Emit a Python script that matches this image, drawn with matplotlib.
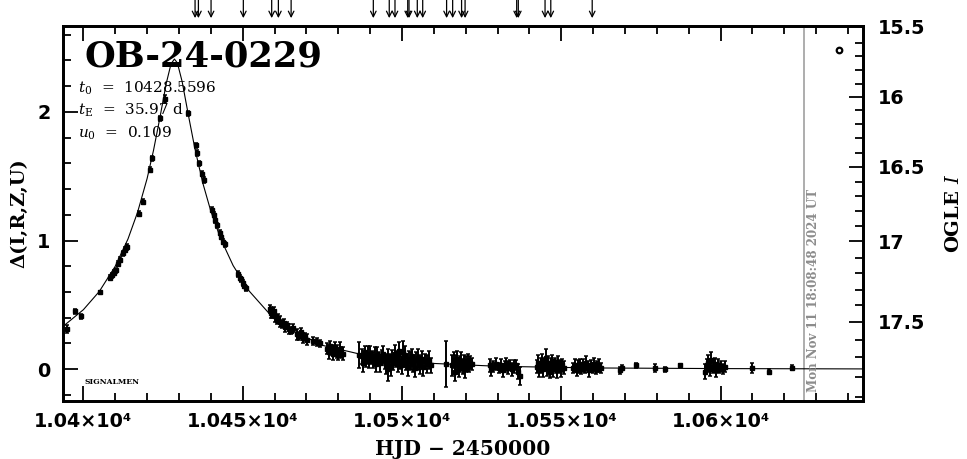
import numpy as np
import matplotlib
matplotlib.use("Agg")
import matplotlib.pyplot as plt
from matplotlib.ticker import MultipleLocator, FixedLocator

plt.rcParams['mathtext.fontset'] = 'dejavuserif'

# event parameters (as printed on the chart)
event_name = "OB-24-0229"
param_lines = [r"$t_0$  =  10428.5596", r"$t_{\rm E}$  =  35.97 d", r"$u_0$  =  0.109"]
date_stamp = "Mon Nov 11 18:08:48 2024 UT"
now_hjd = 10626.2

# model curve
model_t = [10393.6, 10400, 10405, 10410, 10414, 10417, 10420, 10422, 10424, 10426,
           10427.5, 10428.56, 10429.5, 10431, 10433, 10435, 10437.5, 10440, 10443,
           10447, 10452, 10458, 10465, 10475, 10490, 10510, 10530, 10560, 10600, 10644.6]
model_d = [0.332, 0.462, 0.604, 0.800, 1.012, 1.219, 1.482, 1.700, 1.953, 2.221,
           2.373, 2.411, 2.381, 2.235, 1.969, 1.714, 1.445, 1.228, 1.019,
           0.805, 0.608, 0.441, 0.308, 0.185, 0.098, 0.044, 0.022, 0.009, 0.004, 0.0015]

# photometry: hjd, delta, error
obs_t = [10395.0, 10397.4, 10399.2, 10405.2, 10408.3, 10408.9, 10409.6, 10410.2, 10410.8, 10411.4,
         10412.4, 10413.0, 10413.6, 10417.5, 10418.6, 10420.9, 10421.6, 10424.1, 10425.6,
         10432.9, 10435.3, 10435.8, 10436.4, 10437.1, 10437.7, 10440.4, 10440.9, 10441.4, 10441.9,
         10442.8, 10443.3, 10443.8, 10444.3, 10448.6, 10449.0, 10449.5, 10450.0, 10450.5, 10451.1,
         10458.5, 10458.9, 10459.3, 10459.7, 10460.2, 10460.7, 10461.2, 10461.8, 10462.3, 10462.9,
         10463.4, 10464.0, 10464.6, 10465.2, 10465.8, 10467.2, 10467.7, 10468.3, 10468.9, 10469.5,
         10470.1, 10472.0, 10473.2, 10474.3, 10476.6, 10477.0, 10477.5, 10478.0, 10478.5, 10479.0,
         10479.5, 10480.0, 10480.5, 10481.0, 10481.5, 10486.6,
         10487.4, 10487.8, 10488.3, 10488.7, 10489.2, 10489.6, 10490.1, 10490.5, 10491.0, 10491.4,
         10491.9, 10492.3, 10492.8, 10493.2, 10493.7, 10494.1, 10494.6, 10495.0, 10495.5, 10495.9,
         10496.4, 10496.8, 10497.3, 10497.7, 10498.2, 10498.6, 10499.1, 10499.5, 10500.0, 10500.4,
         10500.9, 10501.3, 10501.8, 10502.2, 10502.7, 10503.1, 10503.6, 10504.0, 10504.5, 10504.9,
         10505.4, 10505.8, 10506.3, 10506.7, 10507.2, 10507.8, 10508.5, 10509.0, 10495.6, 10500.4,
         10513.7,
         10515.8, 10516.2, 10516.6, 10517.0, 10517.4, 10517.8, 10518.2, 10518.6, 10519.0, 10519.4,
         10519.8, 10520.2, 10520.6, 10521.0, 10521.5, 10522.0,
         10527.6, 10528.0, 10528.6, 10529.5, 10530.3, 10531.0, 10531.6, 10532.2, 10532.8, 10533.4,
         10534.0, 10534.6, 10535.2, 10535.8, 10536.4, 10537.0,
         10542.3, 10542.7, 10543.1, 10543.5, 10543.9, 10544.3, 10544.7, 10545.1, 10545.5, 10545.9,
         10546.3, 10546.7, 10547.1, 10547.5, 10547.9, 10548.3, 10548.7, 10549.1, 10549.5, 10549.9,
         10550.3, 10550.8,
         10553.8, 10554.3, 10554.8, 10555.3, 10555.8, 10556.3, 10556.8, 10557.3, 10557.8, 10558.3,
         10558.8, 10559.3, 10559.8, 10560.3, 10560.8, 10561.3, 10561.8, 10562.4,
         10568.4, 10569.2, 10573.4, 10579.4, 10582.4, 10587.1,
         10595.1, 10595.6, 10596.1, 10596.6, 10597.1, 10597.6, 10598.1, 10598.6, 10599.1, 10599.6,
         10600.1, 10600.8, 10601.5, 10609.7, 10615.1, 10622.5]
obs_d = [0.31, 0.45, 0.41, 0.60, 0.71, 0.73, 0.75, 0.77, 0.82, 0.85,
         0.90, 0.93, 0.95, 1.21, 1.30, 1.55, 1.64, 1.95, 2.10,
         1.99, 1.74, 1.68, 1.60, 1.52, 1.47, 1.24, 1.20, 1.16, 1.12,
         1.06, 1.03, 0.99, 0.97, 0.74, 0.71, 0.70, 0.67, 0.65, 0.63,
         0.47, 0.44, 0.43, 0.45, 0.41, 0.38, 0.40, 0.37, 0.35, 0.36,
         0.33, 0.34, 0.31, 0.30, 0.32, 0.27, 0.26, 0.29, 0.24, 0.25,
         0.23, 0.22, 0.21, 0.20, 0.16, 0.13, 0.18, 0.15, 0.12, 0.17,
         0.14, 0.11, 0.16, 0.13, 0.12, 0.11,
         0.10, 0.05, 0.13, 0.08, 0.11, 0.06, 0.12, 0.09, 0.07, 0.10,
         0.04, 0.11, 0.08, 0.05, 0.09, 0.12, 0.06, 0.03, 0.10, 0.07,
         0.02, 0.09, 0.05, 0.12, 0.08, 0.04, 0.14, 0.06, 0.03, 0.09,
         0.11, 0.05, 0.02, 0.08, 0.06, 0.10, 0.04, 0.01, 0.07, 0.09,
         0.05, 0.03, 0.08, 0.02, 0.06, 0.04, 0.07, 0.03, 0.00, 0.13,
         0.04,
         0.03, 0.07, -0.02, 0.05, 0.08, 0.01, 0.04, 0.06, 0.02, 0.05,
         0.00, 0.04, 0.06, 0.03, 0.05, 0.04,
         0.03, 0.00, 0.02, 0.04, 0.01, 0.03, -0.01, 0.02, 0.04, 0.01,
         0.03, 0.00, 0.02, 0.03, -0.02, -0.05,
         0.02, 0.05, -0.01, 0.03, 0.07, 0.00, 0.04, 0.09, 0.01, 0.05,
         -0.02, 0.03, 0.06, 0.00, 0.04, 0.02, -0.01, 0.05, 0.02, 0.00,
         0.03, 0.01,
         0.01, 0.03, -0.01, 0.02, 0.04, 0.00, 0.03, 0.01, 0.05, 0.02,
         -0.01, 0.03, 0.01, 0.04, 0.00, 0.02, 0.03, 0.01,
         -0.01, 0.01, 0.03, 0.01, 0.00, 0.03,
         -0.02, 0.03, 0.05, 0.00, 0.07, 0.02, 0.04, -0.01, 0.03, 0.01,
         0.02, 0.00, 0.02, 0.01, -0.02, 0.01]
obs_e = [0.03, 0.02, 0.02, 0.01, 0.02, 0.02, 0.02, 0.02, 0.02, 0.02,
         0.02, 0.02, 0.02, 0.02, 0.02, 0.02, 0.02, 0.02, 0.03,
         0.02, 0.02, 0.02, 0.02, 0.02, 0.02, 0.02, 0.02, 0.02, 0.02,
         0.02, 0.02, 0.02, 0.02, 0.02, 0.02, 0.02, 0.02, 0.02, 0.02,
         0.03, 0.04, 0.03, 0.03, 0.04, 0.03, 0.03, 0.04, 0.03, 0.03,
         0.04, 0.03, 0.04, 0.03, 0.03, 0.04, 0.03, 0.03, 0.04, 0.03,
         0.04, 0.03, 0.03, 0.03, 0.04, 0.05, 0.04, 0.04, 0.05, 0.04,
         0.05, 0.04, 0.05, 0.04, 0.05, 0.10,
         0.06, 0.07, 0.05, 0.06, 0.07, 0.05, 0.06, 0.05, 0.06, 0.07,
         0.06, 0.06, 0.05, 0.07, 0.06, 0.06, 0.06, 0.07, 0.06, 0.05,
         0.07, 0.06, 0.06, 0.07, 0.06, 0.06, 0.07, 0.06, 0.07, 0.06,
         0.07, 0.06, 0.07, 0.06, 0.07, 0.06, 0.06, 0.07, 0.06, 0.07,
         0.06, 0.07, 0.06, 0.07, 0.06, 0.07, 0.07, 0.06, 0.09, 0.09,
         0.18,
         0.08, 0.06, 0.07, 0.06, 0.06, 0.07, 0.06, 0.07, 0.06, 0.06,
         0.07, 0.06, 0.06, 0.05, 0.05, 0.05,
         0.05, 0.05, 0.04, 0.05, 0.04, 0.05, 0.05, 0.04, 0.05, 0.05,
         0.04, 0.05, 0.05, 0.04, 0.06, 0.07,
         0.05, 0.06, 0.05, 0.06, 0.05, 0.06, 0.05, 0.07, 0.06, 0.05,
         0.05, 0.06, 0.05, 0.06, 0.05, 0.05, 0.06, 0.05, 0.05, 0.06,
         0.05, 0.05,
         0.04, 0.05, 0.04, 0.05, 0.04, 0.04, 0.05, 0.04, 0.05, 0.04,
         0.05, 0.04, 0.04, 0.05, 0.04, 0.04, 0.05, 0.04,
         0.03, 0.02, 0.02, 0.03, 0.02, 0.01,
         0.06, 0.05, 0.06, 0.05, 0.06, 0.05, 0.05, 0.05, 0.05, 0.04,
         0.04, 0.04, 0.04, 0.04, 0.02, 0.02]

# epochs marked by arrows along the top
arrow_t = [10435.05, 10436.1, 10440.07, 10450.2, 10459.1, 10461.2, 10465.2, 10491.0,
           10496.0, 10497.8, 10501.8, 10502.2, 10504.8, 10506.5, 10514.0, 10515.9,
           10518.7, 10519.8, 10536.0, 10536.5, 10544.9, 10546.7, 10559.7]

# extra open point at top right
extra_t = [10637.2]
extra_d = [2.48]

# right axis: OGLE I magnitude, ticks every 0.1 mag and where they sit in delta
mag_ticks = [15.5, 15.6, 15.7, 15.8, 15.9, 16.0, 16.1, 16.2, 16.3, 16.4, 16.5, 16.6, 16.7,
             16.8, 16.9, 17.0, 17.1, 17.2, 17.3, 17.4, 17.5, 17.6, 17.7, 17.8, 17.9]
mag_delta = [2.667, 2.537, 2.434, 2.323, 2.219, 2.116, 2.013, 1.905, 1.796, 1.684, 1.574,
             1.457, 1.349, 1.233, 1.116, 0.995, 0.866, 0.747, 0.618, 0.496, 0.367, 0.230,
             0.095, -0.060, -0.215]
mag_labels = {15.5: "15.5", 16.0: "16", 16.5: "16.5", 17.0: "17", 17.5: "17.5"}

x_major = [10400, 10450, 10500, 10550, 10600]
x_labels = ["1.04×10⁴", "1.045×10⁴", "1.05×10⁴", "1.055×10⁴", "1.06×10⁴"]

W, H = 967, 459
fig = plt.figure(figsize=(W / 100, H / 100), dpi=100)
ax = fig.add_axes([63 / W, 1 - 401 / H, (862.7 - 63) / W, (401 - 26) / H])

ax.set_xlim(10393.6, 10644.6)
ax.set_ylim(-0.248, 2.668)

ax.plot(model_t, model_d, color='black', lw=0.8, zorder=2)
ax.errorbar(obs_t, obs_d, yerr=obs_e, fmt='s', ms=3.2, color='black', ecolor='black',
            elinewidth=1.4, capsize=1.4, capthick=1.1, zorder=3)
ax.plot(extra_t, extra_d, 'o', ms=4, mfc='none', mec='black', mew=1.6)

ax.axvline(now_hjd, color='#a0a0a0', lw=1.2, zorder=1)
ax.text(now_hjd + 3.0, -0.18, date_stamp, rotation=90, color='#8c8c8c', fontsize=8.6,
        fontweight='bold', family='DejaVu Serif', ha='center', va='bottom')

for t in arrow_t:
    ax.annotate('', xy=(t, 1.021), xytext=(t, 1.07), xycoords=('data', 'axes fraction'),
                arrowprops=dict(arrowstyle='->', lw=0.9, color='black', mutation_scale=10,
                                shrinkA=0, shrinkB=0),
                annotation_clip=False)

# text block
ax.text(0.027, 0.965, event_name, transform=ax.transAxes, fontsize=25.5, fontweight='bold',
        family='DejaVu Serif', va='top', ha='left')
for i, s in enumerate(param_lines):
    ax.text(0.019, 0.835 - i * 0.06, s, transform=ax.transAxes, fontsize=11,
            family='DejaVu Serif', va='center', ha='left')
ax.text(0.027, 0.05, "SIGNALMEN", transform=ax.transAxes, fontsize=5.5,
        family='DejaVu Serif', fontweight='bold', va='center', ha='left')

# axes styling
for sp in ax.spines.values():
    sp.set_linewidth(2)
ax.set_xticks(x_major)
ax.set_xticklabels(x_labels)
ax.xaxis.set_minor_locator(MultipleLocator(10))
ax.set_yticks([0, 1, 2])
ax.yaxis.set_minor_locator(MultipleLocator(0.2))
ax.tick_params(which='major', direction='in', length=11, width=1.3, top=True, right=False)
ax.tick_params(which='minor', direction='in', length=5.5, width=1.3, top=True, right=False)
ax.tick_params(axis='x', pad=8)
ax.tick_params(axis='y', pad=9)
for lab in ax.get_xticklabels() + ax.get_yticklabels():
    lab.set_fontsize(13.8)
    lab.set_fontweight('bold')
    lab.set_family('DejaVu Sans')

ax.set_xlabel("HJD − 2450000", fontsize=14.5, family='DejaVu Serif', fontweight='bold',
              labelpad=6)
ax.set_ylabel("Δ(I,R,Z,U)", fontsize=14, family='DejaVu Serif', fontweight='bold', labelpad=6)

# right axis in OGLE I
ax2 = ax.twinx()
ax2.set_ylim(ax.get_ylim())
major_pos = [d for m, d in zip(mag_ticks, mag_delta) if round(m, 1) in mag_labels]
major_lab = [mag_labels[round(m, 1)] for m in mag_ticks if round(m, 1) in mag_labels]
ax2.yaxis.set_major_locator(FixedLocator(major_pos))
ax2.set_yticklabels(major_lab)
ax2.yaxis.set_minor_locator(FixedLocator(mag_delta))
ax2.tick_params(which='major', direction='in', length=10, width=1.3, pad=11)
ax2.tick_params(which='minor', direction='in', length=5.5, width=1.3)
for lab in ax2.get_yticklabels():
    lab.set_fontsize(13.8)
    lab.set_fontweight('bold')
    lab.set_family('DejaVu Sans')
ax2.set_ylabel("OGLE $I$", fontsize=14, family='DejaVu Serif', fontweight='bold', labelpad=14)
for sp in ax2.spines.values():
    sp.set_linewidth(2)

fig.savefig("out.png", dpi=100)
